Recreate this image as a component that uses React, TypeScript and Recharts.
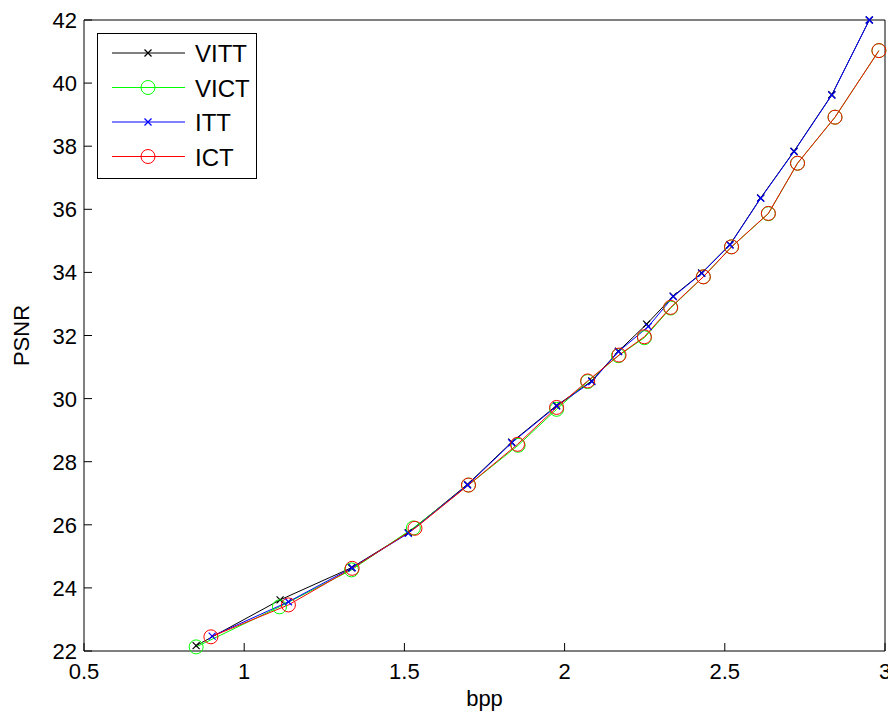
import React from "react";
import { LineChart, Line, XAxis, YAxis, Legend, Label } from "recharts";

// bpp / PSNR readings, one pair of arrays per curve
const vittX = [0.85, 1.112, 1.335, 1.512, 1.697, 1.835, 1.975, 2.085, 2.168, 2.256, 2.339, 2.428, 2.516, 2.612, 2.716, 2.834, 2.951];
const vittY = [22.17, 23.62, 24.64, 25.75, 27.28, 28.62, 29.78, 30.56, 31.5, 32.36, 33.25, 33.98, 34.88, 36.36, 37.84, 39.63, 42.0];
const victX = [0.85, 1.11, 1.335, 1.528, 1.7, 1.855, 1.975, 2.072, 2.168, 2.249, 2.331, 2.433, 2.521, 2.636, 2.727, 2.844, 2.981];
const victY = [22.13, 23.4, 24.57, 25.9, 27.26, 28.52, 29.66, 30.54, 31.36, 31.93, 32.87, 33.86, 34.81, 35.86, 37.46, 38.92, 41.03];
const ittX = [0.9, 1.138, 1.337, 1.512, 1.697, 1.835, 1.975, 2.085, 2.168, 2.261, 2.339, 2.428, 2.516, 2.612, 2.716, 2.834, 2.951];
const ittY = [22.47, 23.56, 24.64, 25.73, 27.26, 28.6, 29.76, 30.54, 31.49, 32.28, 33.23, 33.97, 34.87, 36.35, 37.83, 39.62, 42.0];
const ictX = [0.896, 1.138, 1.337, 1.533, 1.7, 1.853, 1.975, 2.072, 2.17, 2.249, 2.331, 2.433, 2.521, 2.636, 2.727, 2.844, 2.981];
const ictY = [22.45, 23.46, 24.62, 25.89, 27.26, 28.55, 29.72, 30.56, 31.38, 31.96, 32.89, 33.86, 34.81, 35.87, 37.46, 38.92, 41.03];

const xTicks = [0.5, 1, 1.5, 2, 2.5, 3];
const yTicks = [22, 24, 26, 28, 30, 32, 34, 36, 38, 40, 42];

const FONT = "'Liberation Sans', Arial, Helvetica, sans-serif";

const toPoints = (xs: number[], ys: number[]) => xs.map((x, i) => ({ x, y: ys[i] }));

const series = [
  { name: "VITT", color: "#000000", marker: "x", data: toPoints(vittX, vittY) },
  { name: "VICT", color: "#00ff00", marker: "o", data: toPoints(victX, victY) },
  { name: "ITT", color: "#0000ff", marker: "x", data: toPoints(ittX, ittY) },
  { name: "ICT", color: "#ff0000", marker: "o", data: toPoints(ictX, ictY) },
];

function Marker({ cx, cy, type, color }: { cx: number; cy: number; type: string; color: string }) {
  if (type === "o") {
    return <circle cx={cx} cy={cy} r={7} fill="none" stroke={color} strokeWidth={1} />;
  }
  const s = 3.5;
  return (
    <g stroke={color} strokeWidth={1.2}>
      <line x1={cx - s} y1={cy - s} x2={cx + s} y2={cy + s} />
      <line x1={cx - s} y1={cy + s} x2={cx + s} y2={cy - s} />
    </g>
  );
}

const BottomTick = (props: any) => {
  const { x, y, payload } = props;
  return (
    <g>
      <line x1={x} y1={y} x2={x} y2={y - 8} stroke="#000" />
      <text x={x} y={y + 28} textAnchor="middle" fontSize={22} fontFamily={FONT} fill="#000">
        {payload.value}
      </text>
    </g>
  );
};

const LeftTick = (props: any) => {
  const { x, y, payload } = props;
  return (
    <g>
      <line x1={x} y1={y} x2={x + 8} y2={y} stroke="#000" />
      <text x={x - 7} y={y} dy={8} textAnchor="end" fontSize={22} fontFamily={FONT} fill="#000">
        {payload.value}
      </text>
    </g>
  );
};

const TopTick = (props: any) => {
  const { x, y } = props;
  return <line x1={x} y1={y} x2={x} y2={y + 8} stroke="#000" />;
};

const RightTick = (props: any) => {
  const { x, y } = props;
  return <line x1={x} y1={y} x2={x - 8} y2={y} stroke="#000" />;
};

const YTitle = (props: any) => {
  const { viewBox } = props;
  const cx = viewBox.x + viewBox.width - 62;
  const cy = viewBox.y + viewBox.height / 2;
  return (
    <text x={cx} y={cy} dy={7} transform={`rotate(-90 ${cx} ${cy})`} textAnchor="middle" fontSize={22} fontFamily={FONT} fill="#000">
      PSNR
    </text>
  );
};

const XTitle = (props: any) => {
  const { viewBox } = props;
  const cx = viewBox.x + viewBox.width / 2;
  return (
    <text x={cx} y={viewBox.y + 55} textAnchor="middle" fontSize={22} fontFamily={FONT} fill="#000">
      bpp
    </text>
  );
};

const LegendBox = () => (
  <svg width={160} height={146} style={{ display: "block" }}>
    <rect x={0.5} y={0.5} width={159} height={145} fill="#fff" stroke="#000" />
    {series.map((s, i) => {
      const y = 20 + i * 34.5;
      return (
        <g key={s.name}>
          <line x1={15} y1={y} x2={88} y2={y} stroke={s.color} strokeWidth={1} />
          <Marker cx={51} cy={y} type={s.marker} color={s.color} />
          <text x={98} y={y + 9} fontSize={24} fontFamily={FONT} fill="#000">
            {s.name}
          </text>
        </g>
      );
    })}
  </svg>
);

export default function App() {
  return (
    <div style={{ width: 880, height: 703, background: "#fff" }}>
      <style>{".recharts-surface { overflow: visible; }"}</style>
      <LineChart width={880} height={703} margin={{ top: 11, right: 2, bottom: 30, left: 16 }}>
        <XAxis
          type="number"
          dataKey="x"
          domain={[0.5, 3]}
          ticks={xTicks}
          height={30}
          tickSize={0}
          tickMargin={0}
          tickLine={false}
          axisLine={{ stroke: "#000" }}
          tick={<BottomTick />}
          interval={0}
        >
          <Label content={<XTitle />} />
        </XAxis>
        <XAxis
          xAxisId="top"
          orientation="top"
          type="number"
          dataKey="x"
          domain={[0.5, 3]}
          ticks={xTicks}
          height={1}
          tickSize={0}
          tickMargin={0}
          tickLine={false}
          axisLine={{ stroke: "#000" }}
          tick={<TopTick />}
          interval={0}
        />
        <YAxis
          type="number"
          domain={[22, 42]}
          ticks={yTicks}
          width={60}
          tickSize={0}
          tickMargin={0}
          tickLine={false}
          axisLine={{ stroke: "#000" }}
          tick={<LeftTick />}
          interval={0}
        >
          <Label content={<YTitle />} />
        </YAxis>
        <YAxis
          yAxisId="right"
          orientation="right"
          type="number"
          domain={[22, 42]}
          ticks={yTicks}
          width={1}
          tickSize={0}
          tickMargin={0}
          tickLine={false}
          axisLine={{ stroke: "#000" }}
          tick={<RightTick />}
          interval={0}
        />
        {series.map((s) => (
          <Line
            key={s.name}
            data={s.data}
            dataKey="y"
            name={s.name}
            type="linear"
            stroke={s.color}
            strokeWidth={1}
            isAnimationActive={false}
            dot={(p: any) => <Marker key={`${s.name}-${p.index}`} cx={p.cx} cy={p.cy} type={s.marker} color={s.color} />}
            activeDot={false}
          />
        ))}
        <Legend
          layout="horizontal"
          align="center"
          verticalAlign="middle"
          wrapperStyle={{ left: 89, top: 25, width: 160 }}
          content={() => <LegendBox />}
        />
      </LineChart>
    </div>
  );
}
